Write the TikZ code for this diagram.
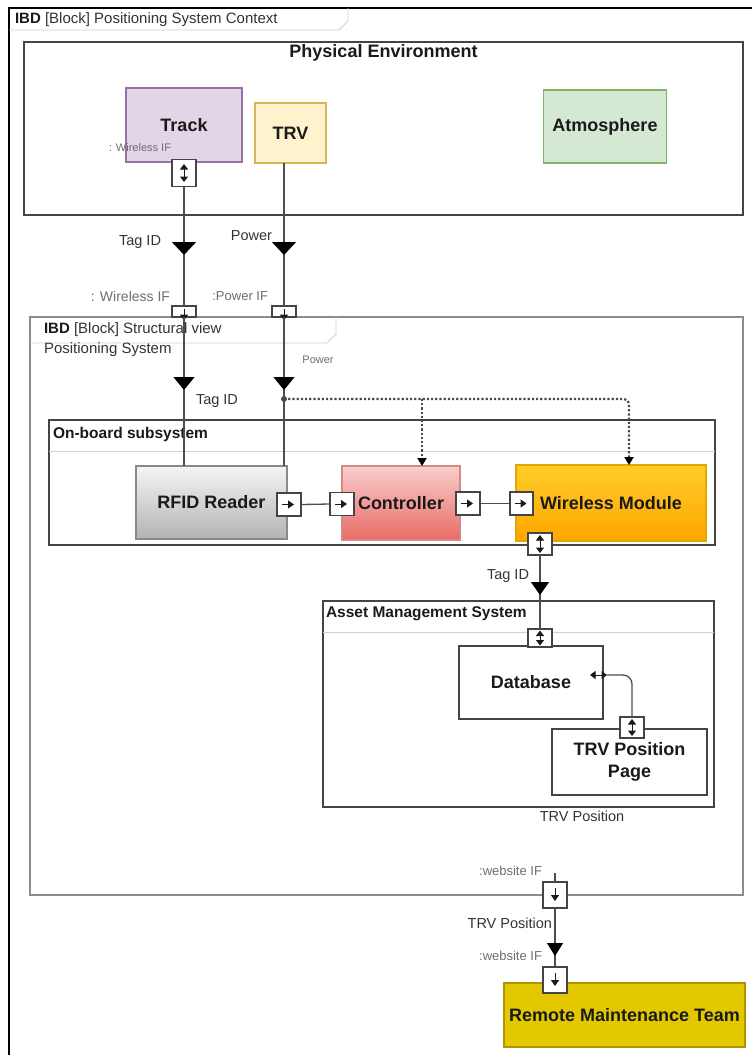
\documentclass[tikz,border=0pt]{standalone}
\usepackage{fontspec}
\setmainfont{Liberation Sans}
\usetikzlibrary{arrows.meta,decorations.markings}

\definecolor{ink}{HTML}{1A1A1A}
\definecolor{soft}{HTML}{333333}
\definecolor{mute}{HTML}{6E6E6E}
\definecolor{edge}{HTML}{444444}
\definecolor{flowc}{HTML}{4D4D4D}
\definecolor{dotc}{HTML}{4A4A4A}
\definecolor{ibdc}{HTML}{8C8C8C}
\definecolor{barc}{HTML}{D0D0D0}
\definecolor{trackfill}{HTML}{E1D5E7}
\definecolor{trackline}{HTML}{9673A6}
\definecolor{trvfill}{HTML}{FFF2CC}
\definecolor{trvline}{HTML}{D6B656}
\definecolor{atmfill}{HTML}{D5E8D4}
\definecolor{atmline}{HTML}{82B366}
\definecolor{rfidtop}{HTML}{F5F5F5}
\definecolor{rfidbot}{HTML}{B3B3B3}
\definecolor{rfidline}{HTML}{8A8A8A}
\definecolor{ctltop}{HTML}{F8CECC}
\definecolor{ctlbot}{HTML}{EA6B66}
\definecolor{ctlline}{HTML}{D28A87}
\definecolor{wmtop}{HTML}{FFCD28}
\definecolor{wmbot}{HTML}{FFA500}
\definecolor{wmline}{HTML}{E0A800}
\definecolor{rmtfill}{HTML}{E3C800}
\definecolor{rmtline}{HTML}{B09500}

\begin{document}
\begin{tikzpicture}[x=1pt,y=-1pt,
  every node/.style={inner sep=0pt,outer sep=0pt},
  namefont/.style={font=\fontsize{18}{22}\selectfont\bfseries,text=ink},
  headfont/.style={font=\fontsize{15.5}{18}\selectfont\bfseries,text=ink},
  labelfont/.style={font=\fontsize{14.5}{17}\selectfont,text=soft},
  smallfont/.style={font=\fontsize{13}{15}\selectfont,text=mute},
  tinyfont/.style={font=\fontsize{11}{13}\selectfont,text=mute},
  block/.style={draw,line width=1.3pt,namefont,align=center},
  container/.style={draw=edge,line width=1.3pt},
  portbox/.style={draw=edge,fill=white,line width=1.4pt,minimum width=24pt},
  portright/.style={draw=ink,line width=1pt,-{Triangle[length=6pt,width=8pt]}},
  portdown/.style={draw=ink,line width=1pt,-{Triangle[length=6pt,width=8pt]}},
  portboth/.style={draw=ink,line width=1pt,{Triangle[length=5.5pt,width=8pt]}-{Triangle[length=5.5pt,width=8pt]}},
  flow/.style={draw=flowc,line width=1.3pt},
  flowtip/.style 2 args={postaction={decorate},
    decoration={markings,mark=at position #1 with {\arrow{Triangle[width=#2,length=13pt,color=black]}}}},
  dotflow/.style={draw=dotc,line width=2.2pt,dash pattern=on 2.2pt off 2pt},
  dottip/.style={-{Triangle[width=9pt,length=8pt,color=black]}}
]
\useasboundingbox (0,0) rectangle (752,1055);

% ---- outer context frame ----
\draw[black,line width=1.3pt] (9,1055) -- (9,8) -- (752,8);
\draw[barc,line width=0.9pt] (9,30) -- (339,30) -- (348,21) -- (348,8);
\node[anchor=west,font=\fontsize{15}{18}\selectfont,text=soft] (ctxtitle) at (15,20)
  {\textcolor{ink}{\textbf{IBD}} [Block] Positioning System Context};

% ---- physical environment ----
\node[container,minimum width=719pt,minimum height=173pt] (physenv) at (383.5,128.5) {};
\node[namefont] (physttl) at (383.5,53) {Physical Environment};
\node[block,draw=trackline,fill=trackfill,minimum width=116pt,minimum height=74pt] (track) at (184,125) {Track};
\node[block,draw=trvline,fill=trvfill,minimum width=71pt,minimum height=60pt] (trv) at (290.5,133) {TRV};
\node[block,draw=atmline,fill=atmfill,minimum width=123pt,minimum height=73pt] (atm) at (605,126.5) {Atmosphere};
\node[portbox,minimum height=27pt] (trkport) at (184,173) {};
\draw[portboth] ([yshift=9pt]trkport.center) -- ([yshift=-9pt]trkport.center);
\node[tinyfont,anchor=east] (trkif) at (171,148) {: Wireless IF};

% ---- positioning system frame ----
\node[draw=ibdc,line width=2.2pt,minimum width=713pt,minimum height=578pt] (posys) at (386.5,606) {};
\draw[barc,line width=0.9pt] (30,343) -- (327,343) -- (336,334) -- (336,317);
\node[anchor=west,font=\fontsize{15}{18}\selectfont,text=soft] (ibdttl) at (44,330)
  {\textcolor{ink}{\textbf{IBD}} [Block] Structural view};
\node[anchor=west,font=\fontsize{15}{18}\selectfont,text=soft] (posname) at (44,350) {Positioning System};

% boundary ports
\node[portbox,minimum height=11pt] (wport) at (184,311.5) {};
\node[portbox,minimum height=11pt] (pport) at (284,311.5) {};
\draw[portdown] ([yshift=3pt]wport.center) -- ([yshift=-9pt]wport.center);
\draw[portdown] ([yshift=3pt]pport.center) -- ([yshift=-9pt]pport.center);

% ---- on-board subsystem ----
\node[container,minimum width=666pt,minimum height=125pt] (onboard) at (382,482.5) {};
\draw[barc,line width=1pt] ([yshift=-31pt]onboard.north west) -- ([yshift=-31pt]onboard.north east);
\node[headfont,anchor=west] (obttl) at (53,434) {On-board subsystem};
\node[block,draw=rfidline,top color=rfidtop,bottom color=rfidbot,minimum width=151pt,minimum height=73pt] (rfid) at (211.5,502.5) {RFID Reader};
\node[block,draw=ctlline,top color=ctltop,bottom color=ctlbot,minimum width=118pt,minimum height=74pt] (ctl) at (401,503) {Controller};
\node[block,draw=wmline,top color=wmtop,bottom color=wmbot,minimum width=190pt,minimum height=76pt] (wm) at (611,503) {Wireless Module};

% incoming flows from the environment
\draw[flow,flowtip={68.5pt}{24pt}] (trkport.south) -- (wport.north);
\draw[flow,flowtip={92pt}{24pt}] (trv.south -| pport.north) -- (pport.north);
\draw[flow,flowtip={73pt}{21pt}] (wport.south) -- (wport.south |- rfid.north);
\draw[flow,flowtip={73pt}{21pt}] (pport.south) -- (pport.south |- rfid.north);
\node[labelfont,anchor=east] (tagA) at (161,242) {Tag ID};
\node[labelfont,anchor=east] (powA) at (272,236) {Power};
\node[font=\fontsize{14}{16}\selectfont,text=mute,anchor=east] (wifA) at (170,296) {: Wireless IF};
\node[smallfont,anchor=east] (pifA) at (268,296) {:Power IF};
\node[tinyfont] (powB) at (318,360) {Power};
\node[labelfont] (tagB) at (217,401) {Tag ID};

% power distribution
\coordinate (pwrtap) at (284,399);
\coordinate (dotturn) at (629,399);
\coordinate (dotbranch) at (422,399);
\draw[dotflow,dottip,rounded corners=5pt] (pwrtap) -| (wm.north -| dotturn);
\draw[dotflow,dottip] (dotbranch) -- (dotbranch |- ctl.north);
\fill[dotc] (pwrtap) circle (3pt);

% on-board ports and links
\node[portbox,minimum height=23pt] (rfidport) at (289,504.5) {};
\node[portbox,minimum height=23pt] (ctlin) at (342,504) {};
\node[portbox,minimum height=23pt] (ctlout) at (468,503.5) {};
\node[portbox,minimum height=23pt,minimum width=23pt] (wmin) at (521.5,503.5) {};
\node[portbox,minimum height=22pt] (wmport) at (540,544) {};
\foreach \p in {rfidport,ctlin,ctlout,wmin}
  \draw[portright] ([xshift=-7pt]\p.center) -- ([xshift=5pt]\p.center);
\draw[portboth] ([yshift=9pt]wmport.center) -- ([yshift=-9pt]wmport.center);
\draw[flow] (rfidport.east) -- (ctlin.west);
\draw[flow] (ctlout.east) -- (wmin.west);

% ---- asset management system ----
\node[container,minimum width=391pt,minimum height=206pt] (ams) at (518.5,704) {};
\draw[barc,line width=1pt] ([yshift=-31pt]ams.north west) -- ([yshift=-31pt]ams.north east);
\node[headfont,anchor=west] (amsttl) at (326,614) {Asset Management System};
\node[block,draw=edge,fill=white,minimum width=144pt,minimum height=73pt] (db) at (531,682.5) {Database};
\node[block,draw=edge,fill=white,minimum width=155pt,minimum height=66pt] (page) at (629.5,762) {TRV Position\\Page};
\node[portbox,minimum height=18pt] (amsport) at (540,638) {};
\draw[portboth] ([yshift=7.5pt]amsport.center) -- ([yshift=-7.5pt]amsport.center);
\node[minimum width=17pt,minimum height=8pt] (dbport) at (598.5,675) {};
\draw[portboth] (dbport.west) -- (dbport.east);
\node[portbox,minimum height=21pt] (tpport) at (632,727.5) {};
\draw[portboth] ([yshift=8.5pt]tpport.center) -- ([yshift=-8.5pt]tpport.center);
\draw[flow,rounded corners=9pt] (dbport.east) -| (tpport.north);

\draw[flow,flowtip={40pt}{18pt}] (wmport.south) -- (amsport.north);
\node[labelfont,anchor=east] (tagC) at (529,576) {Tag ID};
\node[labelfont] (trvposA) at (582,816) {TRV Position};

% ---- website interface ----
\node[portbox,minimum height=26pt] (webport) at (555,895) {};
\draw[portdown] ([yshift=7pt]webport.center) -- ([yshift=-6pt]webport.center);
\coordinate (webstub) at (555,873);
\draw[flow] (webstub) -- (webport.north);
\node[smallfont,anchor=east] (webA) at (542,871) {:website IF};

\node[block,draw=rmtline,fill=rmtfill,minimum width=241pt,minimum height=64pt] (rmt) at (624.5,1015) {Remote Maintenance Team};
\node[portbox,minimum height=26pt] (rmport) at (555,980) {};
\draw[portdown] ([yshift=7pt]rmport.center) -- ([yshift=-6pt]rmport.center);
\draw[flow,flowtip={48pt}{16pt}] (webport.south) -- (rmport.north);
\node[labelfont,anchor=east] (trvposB) at (552,923) {TRV Position};
\node[smallfont,anchor=east] (webB) at (542,956) {:website IF};
\end{tikzpicture}
\end{document}
